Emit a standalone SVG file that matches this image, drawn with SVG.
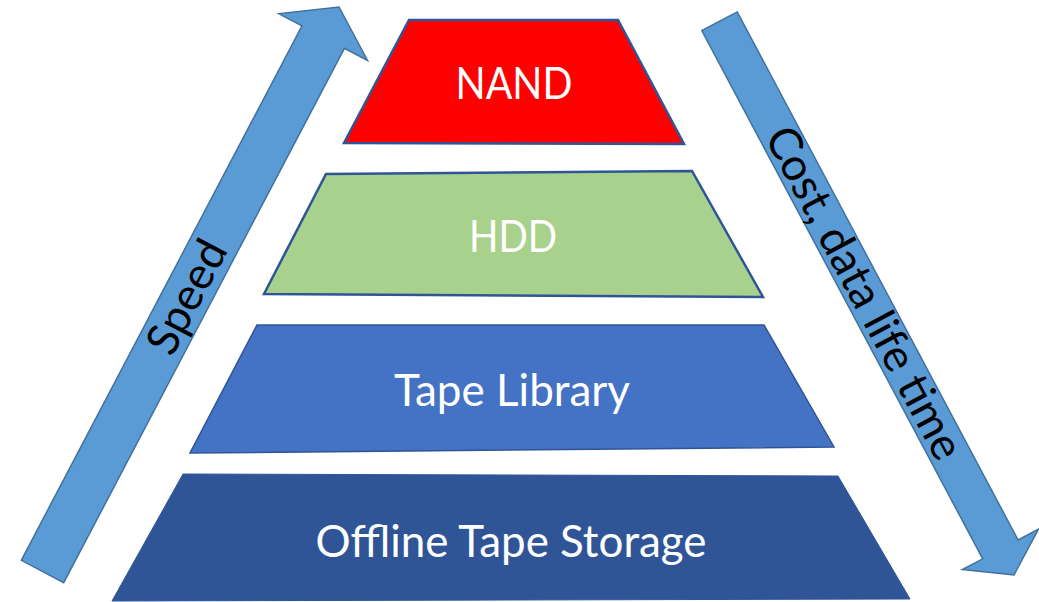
<svg xmlns="http://www.w3.org/2000/svg" width="1039" height="602" viewBox="0 0 1039 602">
<style>
.arrow{fill:#5B9BD5;stroke:#41719C;stroke-width:1.5;stroke-linejoin:miter}
.lvl{stroke:#2F5597;stroke-width:2.5;stroke-linejoin:miter}
.lbl{font-family:Lato,"Liberation Sans",sans-serif;font-size:44px;fill:#FFFFFF;text-anchor:middle}
.albl{font-family:Lato,"Liberation Sans",sans-serif;font-size:45px;fill:#000000;text-anchor:middle}
</style>
<rect width="1039" height="602" fill="#FFFFFF"/>
<g id="connectors">
  <g id="speed-arrow">
    <polygon class="arrow" points="21.3,560.3 302,25.9 278.9,13.8 339,7 367.5,60.4 344.4,48.3 63.7,582.7"/>
    <text class="albl" transform="translate(187,297) rotate(-62.3)" x="0" y="15">Speed</text>
  </g>
  <g id="cost-arrow">
    <polygon class="arrow" points="737.2,11.9 1018.1,540 1038.4,529.2 1014,575 962.4,569.6 982.7,558.8 701.8,30.6"/>
    <text class="albl" transform="translate(864,293) rotate(62)" x="0" y="15">Cost, data life time</text>
  </g>
</g>
<g id="nand">
  <polygon class="lvl" fill="#FF0000" points="409,20 618,20 684,144 344,143"/>
  <text class="lbl" x="514" y="99" textLength="117" lengthAdjust="spacingAndGlyphs">NAND</text>
</g>
<g id="hdd">
  <polygon class="lvl" fill="#A9D18E" points="326,174 692,171 763,297 264,294"/>
  <text class="lbl" x="513" y="252" textLength="88" lengthAdjust="spacingAndGlyphs">HDD</text>
</g>
<g id="tape-library">
  <polygon fill="#4472C4" stroke="#2F5597" stroke-width="1.5" points="257,325 764,325 834,447 190,453"/>
  <text class="lbl" x="512" y="406" textLength="236" lengthAdjust="spacingAndGlyphs">Tape Library</text>
</g>
<g id="offline-tape-storage">
  <polygon fill="#2F5597" stroke="#2F5597" stroke-width="1" points="183,474 838,476 910,599 112,601"/>
  <text class="lbl" x="511" y="557" textLength="391" lengthAdjust="spacingAndGlyphs">Offline Tape Storage</text>
</g>
</svg>
